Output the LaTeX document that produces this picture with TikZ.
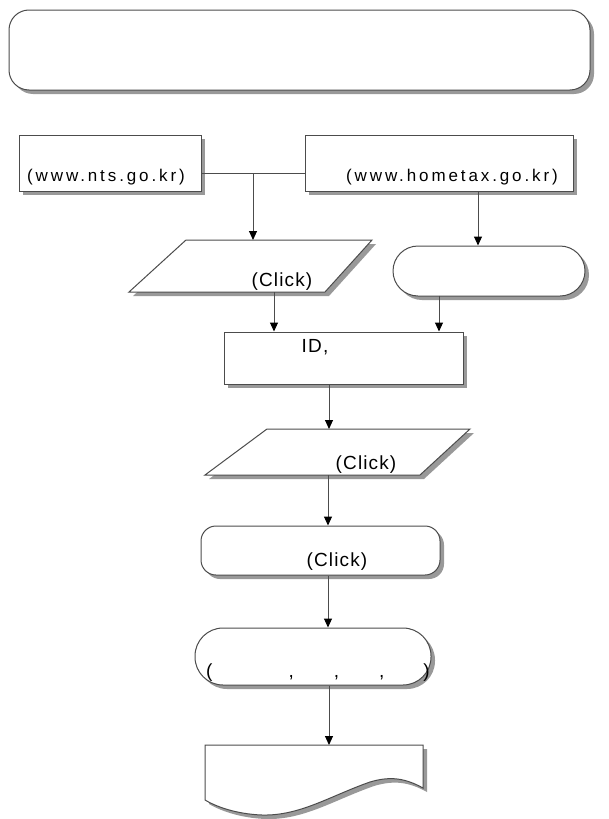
\documentclass[tikz,border=0pt]{standalone}
\usepackage{fontspec}
\setmainfont{Liberation Sans}
\usetikzlibrary{arrows.meta,shadows}
\newcommand{\urlfont}{\fontsize{17}{20}\selectfont\addfontfeature{LetterSpace=17}}
\newcommand{\lblfont}{\fontsize{19}{22}\selectfont\addfontfeature{LetterSpace=6}}
\begin{document}
\begin{tikzpicture}[x=1pt,y=-1pt,
  shd/.style={drop shadow={shadow xshift=4pt,shadow yshift=-4pt,opacity=1,fill=black!40}},
  box/.style={draw=black!70,line width=1pt,fill=white,inner sep=0pt,shd},
  rbox/.style={box,rectangle,rounded corners=#1},
  lbl/.style={inner sep=0pt,font=\lblfont},
  url/.style={inner sep=0pt,font=\urlfont},
  arr/.style={draw=black!70,line width=1pt,-{Triangle[width=8pt,length=9pt,color=black,fill=black]}},
  ln/.style={draw=black!70,line width=1pt}]
\useasboundingbox (0,0) rectangle (608,819);
% top banner
\node[rbox=20pt,minimum width=581pt,minimum height=80pt] (top) at (299.5,50) {};
% site boxes
\node[box,rectangle,minimum width=182pt,minimum height=56pt] (nts) at (110,163) {};
\node[url,anchor=west] (ntsurl) at (27,177) {(www.nts.go.kr)};
\node[box,rectangle,minimum width=268pt,minimum height=56pt] (home) at (439,163) {};
\node[url,anchor=east] (homeurl) at (558,177) {(www.hometax.go.kr)};
% parallelogram 1
\draw[box] (186,240) -- (372,240) -- (325,292) -- (129,292) -- cycle;
\coordinate (p1n) at (253,240);
\coordinate (p1s) at (274,292);
\node[lbl] (p1t) at (282,282) {(Click)};
% stadium 1
\node[rbox=25pt,minimum width=192pt,minimum height=50pt] (s1) at (489,271) {};
% ID box
\node[box,rectangle,minimum width=239pt,minimum height=52pt] (id) at (343.5,358) {};
\node[lbl] (idt) at (315,347) {ID,};
% parallelogram 2
\draw[box] (267,429) -- (470,429) -- (420,475) -- (205,475) -- cycle;
\coordinate (p2n) at (329,429);
\coordinate (p2s) at (328,475);
\node[lbl] (p2t) at (366,465) {(Click)};
% rounded box
\node[rbox=15pt,minimum width=239pt,minimum height=49pt] (rb) at (320.5,550.5) {};
\node[lbl] (rbt) at (337,562) {(Click)};
% stadium 2
\node[rbox=28pt,minimum width=236pt,minimum height=57pt] (s2) at (313,656.5) {};
\node[lbl,anchor=base west] (s2t) at (206,677) {(\hspace{76pt},\hspace{40pt},\hspace{40pt},\hspace{39pt})};
% document
\draw[box]
  (205,745) -- (423,745) -- (423,788)
  .. controls (405,778) and (390,776) .. (370,782)
  .. controls (330,796) and (300,816) .. (262,815)
  .. controls (235,814) and (215,806) .. (205,800) -- cycle;
\coordinate (doc) at (329,745);
% connectors
\coordinate (j) at (253,173);
\draw[ln] (nts.east |- j) -- (home.west |- j);
\draw[arr] (j) -- (p1n);
\draw[arr] (home.south -| s1.north) ++(-11,0) coordinate (h1) -- (h1 |- s1.north);
\draw[arr] (p1s) -- (p1s |- id.north);
\draw[arr] (id.north -| 439,0) ++(0,-36) coordinate (s1s) -- (s1s |- id.north);
\draw[arr] (id.south -| 329,0) coordinate (ids) -- (ids |- p2n);
\draw[arr] (p2s) -- (p2s |- rb.north);
\draw[arr] (rb.south -| 328,0) coordinate (rbs) -- (rbs |- s2.north);
\draw[arr] (s2.south -| doc) -- (doc);
\end{tikzpicture}
\end{document}
